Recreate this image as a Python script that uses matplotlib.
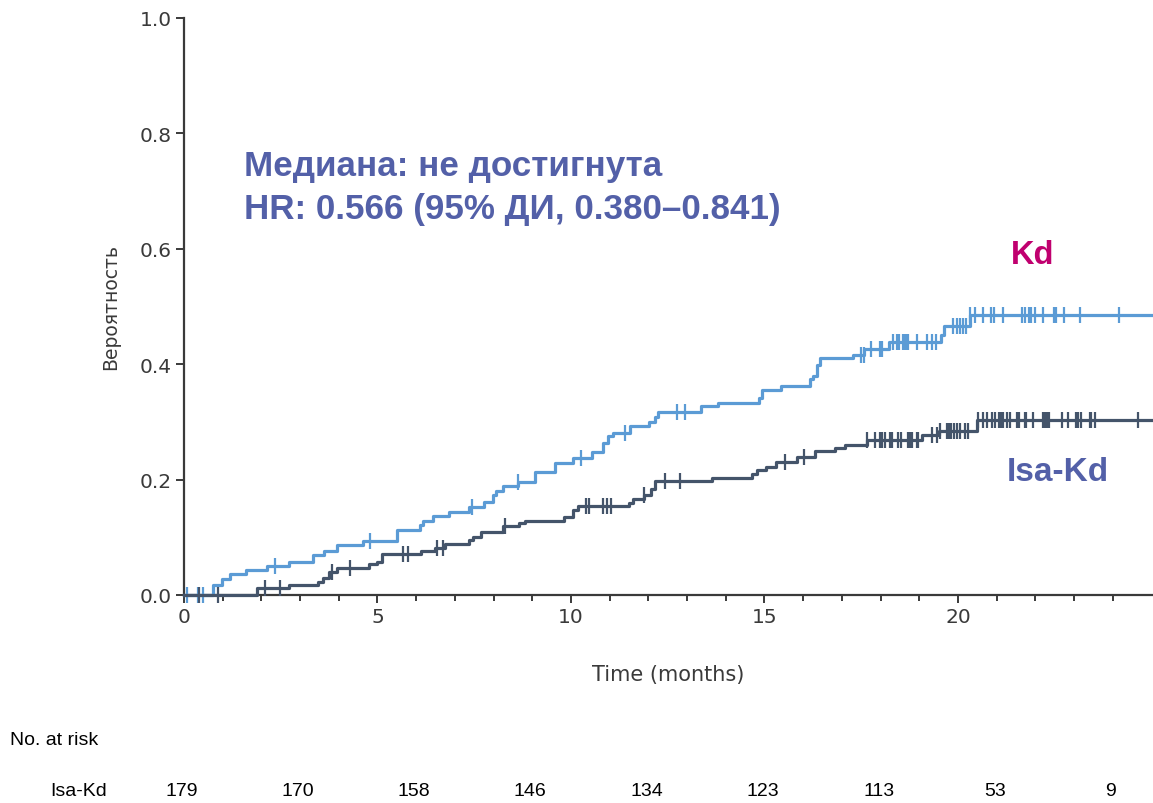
import matplotlib

matplotlib.use("Agg")

import matplotlib.pyplot as plt
import matplotlib.transforms as mtransforms
import numpy as np

# Kd arm: event times (months) and cumulative probability after each step
kd_times = [0.76, 0.97, 1.19, 1.60, 2.14, 2.72, 3.34, 3.62, 3.95, 4.62, 5.51, 6.10,
            6.17, 6.44, 6.86, 7.37, 7.75, 7.98, 8.06, 8.24, 8.64, 9.07, 9.59, 10.06,
            10.55, 10.84, 10.95, 11.09, 11.52, 12.02, 12.17, 12.26, 13.36, 13.81, 14.87,
            14.93, 15.44, 16.18, 16.25, 16.35, 16.43, 17.28, 17.57, 18.22, 19.55, 19.64,
            20.31]
kd_prob = [0.018, 0.028, 0.036, 0.043, 0.051, 0.058, 0.069, 0.077, 0.086, 0.093, 0.112,
           0.122, 0.128, 0.137, 0.144, 0.153, 0.162, 0.173, 0.181, 0.189, 0.195, 0.214,
           0.229, 0.237, 0.248, 0.263, 0.275, 0.280, 0.293, 0.299, 0.308, 0.318, 0.327,
           0.333, 0.341, 0.355, 0.363, 0.374, 0.380, 0.399, 0.411, 0.416, 0.427, 0.438,
           0.451, 0.467, 0.485]
kd_censored = [0.07, 0.37, 0.50, 2.36, 4.81, 7.43, 8.64, 10.25, 11.40, 12.75, 12.95,
               17.49, 17.56, 17.74, 17.98, 18.03, 18.33, 18.42, 18.47, 18.59, 18.63,
               18.67, 18.72, 18.95, 19.21, 19.32, 19.43, 19.88, 19.97, 20.05, 20.14,
               20.22, 20.31, 20.44, 20.64, 20.85, 20.94, 21.17, 21.65, 21.74, 21.84,
               21.88, 21.98, 22.20, 22.49, 22.54, 22.75, 23.16, 24.17]

# Isa-Kd arm
isa_times = [1.89, 2.72, 3.47, 3.58, 3.75, 3.95, 4.79, 4.98, 5.11, 6.12, 6.49, 6.75,
             7.37, 7.48, 7.67, 8.24, 8.66, 8.81, 9.82, 10.06, 10.19, 11.51, 11.61, 11.89,
             12.06, 12.17, 13.64, 14.69, 14.80, 15.04, 15.30, 15.85, 16.30, 16.82, 17.08,
             17.64, 19.06, 19.52, 20.50]
isa_prob = [0.012, 0.018, 0.023, 0.029, 0.039, 0.046, 0.053, 0.058, 0.071, 0.077, 0.082,
            0.089, 0.095, 0.101, 0.109, 0.120, 0.124, 0.129, 0.135, 0.147, 0.154, 0.160,
            0.166, 0.173, 0.184, 0.198, 0.203, 0.210, 0.216, 0.222, 0.230, 0.240, 0.249,
            0.254, 0.260, 0.268, 0.277, 0.285, 0.303]
isa_censored = [0.40, 0.88, 2.09, 2.48, 3.82, 4.29, 5.67, 5.80, 6.53, 6.68, 8.29, 10.38,
                10.47, 10.82, 10.94, 11.03, 11.89, 12.43, 12.83, 15.53, 16.02, 17.64,
                17.85, 17.98, 18.03, 18.11, 18.24, 18.29, 18.45, 18.54, 18.71, 18.76,
                18.81, 18.93, 18.97, 19.33, 19.45, 19.54, 19.72, 19.77, 19.82, 19.90,
                19.98, 20.05, 20.18, 20.26, 20.53, 20.64, 20.74, 20.87, 20.96, 21.07,
                21.11, 21.16, 21.26, 21.34, 21.53, 21.58, 21.73, 21.77, 21.94, 22.20,
                22.25, 22.29, 22.36, 22.70, 22.85, 23.06, 23.11, 23.17, 23.41, 23.45,
                23.54, 24.66]

risk_months = [0, 3, 6, 9, 12, 15, 18, 21, 24]
risk_isa = [179, 170, 158, 146, 134, 123, 113, 53, 9]

X_MAX = 25.04
KD_COLOR = "#5B9BD5"
ISA_COLOR = "#44546A"
NOTE_COLOR = "#5360A8"
AXIS_COLOR = "#3A3A3A"


def step_curve(times, prob):
    x = np.concatenate([[0.0], times, [X_MAX]])
    y = np.concatenate([[0.0], prob, [prob[-1]]])
    return x, y


def censor_levels(times, prob, censored):
    levels = np.concatenate([[0.0], prob])
    idx = np.searchsorted(times, censored, side="right")
    return levels[idx]


fig = plt.figure(figsize=(11.53, 8.04), dpi=100)
ax = fig.add_axes([184 / 1153, 208 / 804, 1 - 184 / 1153, 577 / 804])

for times, prob, cens, color in [
    (kd_times, kd_prob, kd_censored, KD_COLOR),
    (isa_times, isa_prob, isa_censored, ISA_COLOR),
]:
    x, y = step_curve(times, prob)
    ax.step(x, y, where="post", color=color, lw=2.3, clip_on=False, zorder=3)
    ax.plot(cens, censor_levels(times, prob, cens), ls="none", marker="|",
            ms=11, mew=1.6, color=color, clip_on=False, zorder=3)

ax.set_xlim(0, X_MAX)
ax.set_ylim(0, 1.0)
ax.set_xticks([0, 5, 10, 15, 20])
ax.set_xticks(np.arange(0, 25), minor=True)
ax.set_yticks([0, 0.2, 0.4, 0.6, 0.8, 1.0])
ax.set_yticklabels(["0.0", "0.2", "0.4", "0.6", "0.8", "1.0"])

for side in ["top", "right"]:
    ax.spines[side].set_visible(False)
for side in ["left", "bottom"]:
    ax.spines[side].set_color(AXIS_COLOR)
    ax.spines[side].set_linewidth(1.6)

ax.tick_params(which="major", length=6, width=1.4, color=AXIS_COLOR,
               labelsize=14.5, labelcolor="#3A3A3A", pad=3)
ax.tick_params(which="minor", length=4, width=1.4, color=AXIS_COLOR)

ax.set_xlabel("Time (months)", fontsize=15, color="#3A3A3A", labelpad=27)
ax.set_ylabel("Вероятность", fontsize=13.5, color="#3A3A3A", labelpad=14)

bold_font = ["Liberation Sans", "DejaVu Sans"]
ax.text(244 / 1153, 1 - 150 / 804, "Медиана: не достигнута\nHR: 0.566 (95% ДИ, 0.380–0.841)",
        transform=fig.transFigure, fontsize=25.2, fontweight="bold", color=NOTE_COLOR,
        family=bold_font, va="top", linespacing=1.4)
ax.text(1011 / 1153, 1 - 256 / 804, "Kd", transform=fig.transFigure, fontsize=23.5,
        fontweight="bold", color="#C0006F", family=bold_font, va="center")
ax.text(1007 / 1153, 1 - 473 / 804, "Isa-Kd", transform=fig.transFigure, fontsize=24,
        fontweight="bold", color=NOTE_COLOR, family=bold_font, va="center")

# number-at-risk table under the plot
table_font = ["Liberation Sans Narrow", "Liberation Sans", "DejaVu Sans"]
fig.text(10 / 1153, 1 - 741 / 804, "No. at risk", fontsize=14, family=table_font,
         va="center", ha="left")
fig.text(50 / 1153, 1 - 792 / 804, "Isa-Kd", fontsize=14, family=table_font,
         va="center", ha="left")
row_trans = mtransforms.blended_transform_factory(ax.transData, fig.transFigure)
for month, n in zip(risk_months, risk_isa):
    fig.text(month - 0.05, 1 - 792 / 804, str(n), fontsize=14, family=table_font,
             va="center", ha="center", transform=row_trans)

fig.savefig("out.png", dpi=100)
plt.close(fig)
